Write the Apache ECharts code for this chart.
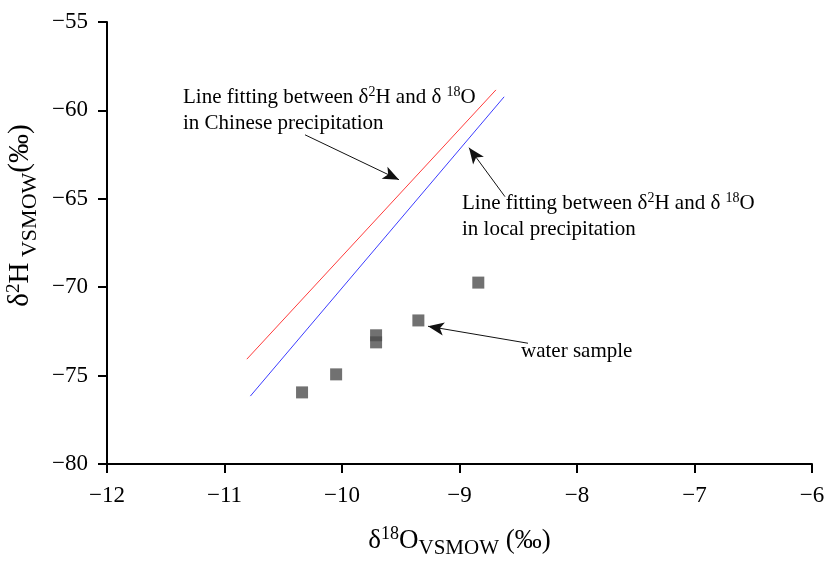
<!DOCTYPE html>
<html>
<head>
<meta charset="utf-8">
<script src="https://cdn.jsdelivr.net/npm/echarts@6/dist/echarts.min.js"></script>
<style>
  html, body { margin: 0; padding: 0; background: #fff; }
  #chart { width: 825px; height: 561px; }
</style>
</head>
<body>
<div id="chart"></div>
<script>
// water samples, d18O vs d2H
var sampleX = [-10.34, -10.05, -9.71, -9.71, -9.35, -8.84];
var sampleY = [-75.95, -74.93, -72.72, -73.12, -71.88, -69.74];

// fitted lines (end points)
var chinaLine = [[-10.81, -74.07], [-8.69, -58.84]];
var localLine = [[-10.78, -76.16], [-8.62, -59.23]];

// annotation arrows: [tail, tip]
var arrows = [
    [[-10.315, -61.38], [-9.515, -63.92]],
    [[-8.613, -64.88], [-8.919, -62.11]],
    [[-8.417, -73.17], [-9.268, -72.21]]
];

var serif = 'Liberation Serif';

var samples = sampleX.map(function (x, i) {
    return [x, sampleY[i]];
});

function minus(v) {
    return String(v).replace('-', '\u2212');
}

function richFor(size, supSize, subSize, lh) {
    return {
        n: { fontSize: size, fontFamily: serif, color: '#000', lineHeight: lh, verticalAlign: 'bottom' },
        sup: { fontSize: supSize, fontFamily: serif, color: '#000', lineHeight: lh, verticalAlign: 'bottom', padding: [0, 0, Math.round(size * 0.42), 0] },
        sub: { fontSize: subSize, fontFamily: serif, color: '#000', lineHeight: lh, verticalAlign: 'bottom', padding: [0, 0, -Math.round(size * 0.2), 0] }
    };
}

var chart = echarts.init(document.getElementById('chart'));

var option = {
    animation: false,
    grid: { left: 107, right: 13, top: 22, bottom: 97, outerBoundsMode: 'none' },
    xAxis: {
        type: 'value',
        min: -12,
        max: -6,
        interval: 1,
        splitLine: { show: false },
        axisLine: { onZero: false, lineStyle: { color: '#000', width: 2 } },
        axisTick: { length: 9, lineStyle: { color: '#000', width: 2 } },
        axisLabel: { fontSize: 23, fontFamily: serif, color: '#000', margin: 20, formatter: minus },
        name: '{n|δ}{sup|18}{n|O}{sub|VSMOW}{n| (‰)}',
        nameLocation: 'middle',
        nameGap: 56,
        nameTextStyle: { rich: richFor(27, 18, 21, 34) }
    },
    yAxis: {
        type: 'value',
        min: -80,
        max: -55,
        interval: 5,
        splitLine: { show: false },
        axisLine: { onZero: false, lineStyle: { color: '#000', width: 2 } },
        axisTick: { length: 9, lineStyle: { color: '#000', width: 2 } },
        axisLabel: { fontSize: 23, fontFamily: serif, color: '#000', margin: 19, formatter: minus },
        name: '{n|δ}{sup|2}{n|H}{sub| VSMOW}{n|(‰)}',
        nameLocation: 'middle',
        nameGap: 64,
        nameTextStyle: { rich: richFor(29, 19, 22, 34), padding: [0, 0, 0, 55] }
    },
    series: [
        {
            type: 'line',
            data: chinaLine,
            showSymbol: false,
            lineStyle: { color: '#ff3b3b', width: 1 },
            silent: true
        },
        {
            type: 'line',
            data: localLine,
            showSymbol: false,
            lineStyle: { color: '#3b3bff', width: 1 },
            silent: true
        },
        {
            type: 'scatter',
            data: samples,
            symbol: 'rect',
            symbolSize: 12,
            itemStyle: { color: '#4d4d4d' },
            silent: true,
            markLine: {
                silent: true,
                symbol: ['none', 'arrow'],
                symbolSize: [10, 16],
                label: { show: false },
                lineStyle: { color: '#111', width: 1, type: 'solid' },
                data: arrows.map(function (a) {
                    return [{ coord: a[0] }, { coord: a[1] }];
                })
            }
        }
    ],
    graphic: [
        {
            type: 'text', left: 183, top: 85,
            style: {
                text: '{n|Line fitting between δ}{sup|2}{n|H and δ }{sup|18}{n|O}\n{n|in Chinese precipitation}',
                rich: richFor(21, 14, 14, 26)
            }
        },
        {
            type: 'text', left: 462, top: 191,
            style: {
                text: '{n|Line fitting between δ}{sup|2}{n|H and δ }{sup|18}{n|O}\n{n|in local precipitation}',
                rich: richFor(21, 14, 14, 26)
            }
        },
        {
            type: 'text', left: 521, top: 341,
            style: { text: '{n|water sample}', rich: richFor(21, 14, 14, 26) }
        }
    ]
};

chart.setOption(option);
</script>
</body>
</html>
